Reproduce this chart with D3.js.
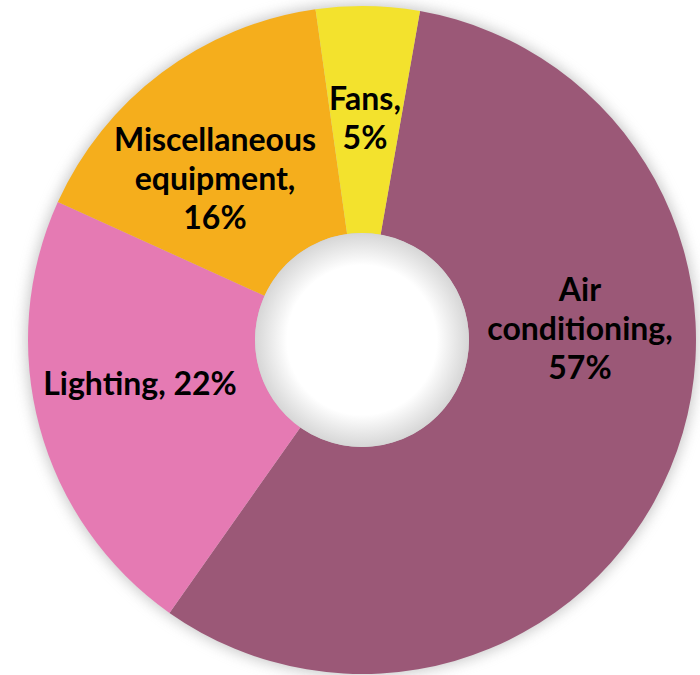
<!DOCTYPE html>
<html>
<head>
<meta charset="utf-8">
<script src="https://cdn.jsdelivr.net/npm/d3@7"></script>
<style>
  html, body { margin: 0; padding: 0; background: #ffffff; }
  svg { display: block; }
</style>
</head>
<body>
<svg id="chart" width="700" height="675"></svg>
<script>
// ---- data ----
const categories = ["Air conditioning", "Lighting", "Miscellaneous equipment", "Fans"];
const values = [57, 22, 16, 5];
const colors = ["#9B5877", "#E57AB3", "#F5AE1C", "#F3E22D"];
const labelLines = [
  ["Air", "conditioning,", "57%"],
  ["Lighting, 22%"],
  ["Miscellaneous", "equipment,", "16%"],
  ["Fans,", "5%"]
];

// ---- layout ----
const W = 700, H = 675;
const cx = 362, cy = 340;
const outerR = 334, innerR = 107;
const startDeg = 10;
const fontSize = 32;
const lineH = 39;
// first-line baseline anchor for each label (layout only)
const labelAnchor = [
  [580, 301],
  [140, 395],
  [215, 151],
  [365, 110]
];

const svg = d3.select("#chart");
const defs = svg.append("defs");

const blur = defs.append("filter").attr("id", "shadow")
  .attr("x", "-20%").attr("y", "-20%").attr("width", "140%").attr("height", "140%");
blur.append("feGaussianBlur").attr("stdDeviation", 7);

const grad = defs.append("radialGradient").attr("id", "holeGrad")
  .attr("cx", "50%").attr("cy", "50%").attr("r", "50%");
grad.append("stop").attr("offset", "0%").attr("stop-color", "#ffffff");
grad.append("stop").attr("offset", "70%").attr("stop-color", "#ffffff");
grad.append("stop").attr("offset", "100%").attr("stop-color", "#d6d6d6");

const g = svg.append("g").attr("transform", `translate(${cx},${cy})`);

// outer soft shadow
g.append("circle").attr("r", outerR + 2).attr("fill", "#9a9a9a")
  .attr("opacity", 0.55).attr("filter", "url(#shadow)");

const start = startDeg * Math.PI / 180;
const pie = d3.pie().sort(null).value(d => d.value)
  .startAngle(start).endAngle(start + 2 * Math.PI);
const data = categories.map((c, i) => ({ name: c, value: values[i], color: colors[i] }));
const arcs = pie(data);
const arc = d3.arc().innerRadius(innerR).outerRadius(outerR);

g.selectAll("path.slice").data(arcs).enter().append("path")
  .attr("class", "slice")
  .attr("d", arc)
  .attr("fill", d => d.data.color);

// inner hole with soft inner shadow
g.append("circle").attr("r", innerR).attr("fill", "url(#holeGrad)");

// labels
const lbl = svg.append("g")
  .attr("font-family", "Lato, 'Open Sans', sans-serif")
  .attr("font-weight", "bold")
  .attr("font-size", fontSize)
  .attr("fill", "#000")
  .attr("text-anchor", "middle");

labelLines.forEach((lines, i) => {
  const t = lbl.append("text");
  lines.forEach((ln, j) => {
    t.append("tspan").attr("x", labelAnchor[i][0]).attr("y", labelAnchor[i][1] + j * lineH).text(ln);
  });
});
</script>
</body>
</html>
